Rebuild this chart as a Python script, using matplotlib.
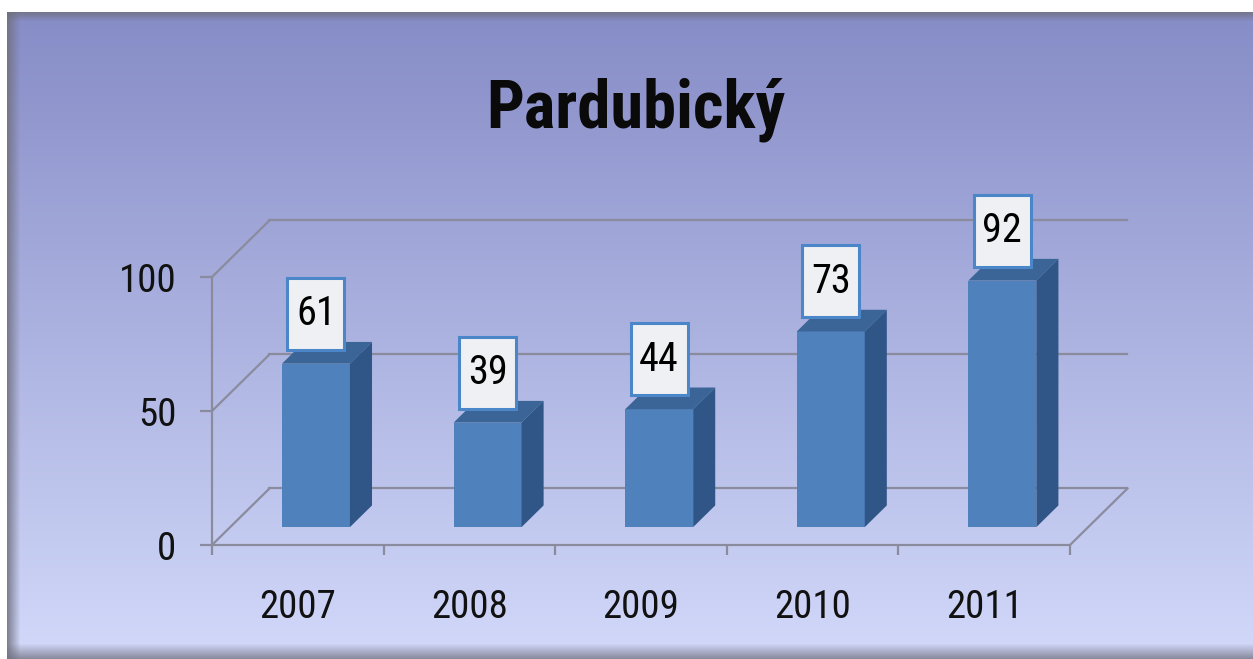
import numpy as np
import matplotlib
matplotlib.use("Agg")
import matplotlib.pyplot as plt
import matplotlib.transforms as mtransforms
from matplotlib.patches import Polygon, Rectangle

# data
years = ["2007", "2008", "2009", "2010", "2011"]
values = [61, 39, 44, 73, 92]
title = "Pardubický"
yticks = [0, 50, 100]

FONT = ["Roboto Condensed", "DejaVu Sans"]
plt.rcParams["font.family"] = FONT

W, H = 1253, 659
fig = plt.figure(figsize=(W / 100, H / 100), dpi=100)
fig.patch.set_facecolor("white")

# background: vertical blue gradient with shaded frame edges
bg = fig.add_axes([0, 0, 1, 1], zorder=0)
rows = np.arange(H)[:, None]
cols = np.arange(W)[None, :]
top_c = np.array([134, 140, 198]) / 255
bot_c = np.array([210, 217, 250]) / 255
t = np.clip((rows - 12) / (H - 12), 0, 1)[..., None]
img = top_c * (1 - t) + bot_c * t
img = np.broadcast_to(img, (H, W, 3)).copy()
edge = np.array([112, 112, 128]) / 255
# left edge shading
a = np.clip(1 - (cols - 7) / 13, 0, 1)[..., None] * 0.85
img = img * (1 - a) + edge * a
# top edge shading
a = np.clip(1 - (rows - 12) / 9, 0, 1)[..., None] * 0.8
img = img * (1 - a) + edge * a
# bottom edge shading
a = np.clip((rows - 643) / 16, 0, 1)[..., None] * 0.8
img = img * (1 - a) + edge * a
img[:12, :] = 1
img[:, :7] = 1
bg.imshow(img, aspect="auto", interpolation="bilinear")
bg.axis("off")

# plot axes = front plane of the 3d box
ax = fig.add_axes([212 / W, (H - 545) / H, 858 / W, 268 / H], zorder=1)
ax.patch.set_alpha(0)
ax.set_xlim(0.5, len(years) + 0.5)
ax.set_ylim(0, 100)

# depth of the box, in data units (x: categories, y: values)
DX, DY = 0.335, 21.1
D1, D2 = 0.316, 0.70
bw = 0.396
grid_c = "#8a8c9e"
glw = 1.6

x0, x1 = 0.5, len(years) + 0.5
for v in yticks:
    # back wall gridline and left wall diagonal
    ax.plot([x0 + DX, x1 + DX], [v + DY, v + DY], color=grid_c, lw=glw,
            clip_on=False, zorder=1)
    ax.plot([x0, x0 + DX], [v, v + DY], color=grid_c, lw=glw,
            clip_on=False, zorder=1)
# floor right edge
ax.plot([x1, x1 + DX], [0, DY], color=grid_c, lw=glw, clip_on=False, zorder=1)

xs = np.arange(1, len(years) + 1)
fx = xs + D1 * DX
base = D1 * DY
ax.bar(fx, values, width=bw, bottom=base, color="#4f81bd", zorder=3,
       clip_on=False)
ddx, ddy = (D2 - D1) * DX, (D2 - D1) * DY
for x, v in zip(fx, values):
    xl, xr = x - bw / 2, x + bw / 2
    top = v + base
    ax.add_patch(Polygon([(xl, top), (xr, top), (xr + ddx, top + ddy),
                          (xl + ddx, top + ddy)], closed=True,
                         facecolor="#3b6597", edgecolor="none", zorder=3,
                         clip_on=False))
    ax.add_patch(Polygon([(xr, base), (xr + ddx, base + ddy),
                          (xr + ddx, top + ddy), (xr, top)], closed=True,
                         facecolor="#2f5687", edgecolor="none", zorder=3,
                         clip_on=False))
    # label box, sized in inches, anchored at the bar's front top
    tr = fig.dpi_scale_trans + mtransforms.ScaledTranslation(x, top, ax.transData)
    ax.add_patch(Rectangle((-0.285, 0.14), 0.57, 0.72, transform=tr,
                           facecolor="#eef0f3", edgecolor="#4a86c8",
                           linewidth=2.2, zorder=4, clip_on=False))
    ax.annotate(str(v), xy=(x, top), xytext=(0, 36), textcoords="offset points",
                ha="center", va="center", fontsize=29, family=FONT,
                zorder=5, annotation_clip=False)

# axes lines and ticks
for s in ["top", "right"]:
    ax.spines[s].set_visible(False)
for s in ["left", "bottom"]:
    ax.spines[s].set_color(grid_c)
    ax.spines[s].set_linewidth(glw)
    ax.spines[s].set_zorder(2)

ax.set_yticks(yticks)
ax.set_yticklabels([str(v) for v in yticks])
ax.tick_params(axis="y", length=8.5, width=glw, color=grid_c, pad=17,
               labelsize=28, labelcolor="#111111")
ax.set_xticks(np.arange(0.5, len(years) + 1, 1.0))
ax.set_xticklabels([])
ax.set_xticks(xs, minor=True)
ax.set_xticklabels(years, minor=True)
ax.tick_params(axis="x", which="major", length=7.5, width=glw, color=grid_c)
ax.tick_params(axis="x", which="minor", length=0, pad=32, labelsize=28,
               labelcolor="#111111")

fig.text(636 / W, 1 - 128 / H, title, ha="center", va="baseline",
         fontsize=48, fontweight="bold", color="#0a0a0a", family=FONT)

fig.savefig("out.png", dpi=100)
